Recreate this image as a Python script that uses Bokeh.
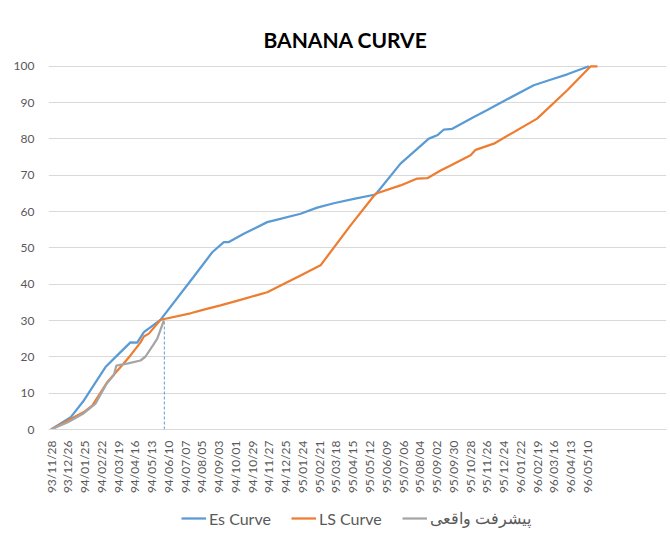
import math
from bokeh.plotting import figure
from bokeh.models import Range1d, FixedTicker, Legend, LegendItem
from bokeh.layouts import column
from bokeh.embed import file_html
from bokeh.resources import INLINE

# ---- data (x measured in category-label steps from the first label) ----
tick_labels = ["93/11/28", "93/12/26", "94/01/25", "94/02/22", "94/03/19", "94/04/16",
               "94/05/13", "94/06/10", "94/07/07", "94/08/05", "94/09/03", "94/10/01",
               "94/10/29", "94/11/27", "94/12/25", "95/01/24", "95/02/21", "95/03/18",
               "95/04/15", "95/05/12", "95/06/09", "95/07/06", "95/08/04", "95/09/02",
               "95/09/30", "95/10/28", "95/11/26", "95/12/24", "96/01/22", "96/02/19",
               "96/03/16", "96/04/13", "96/05/10"]

es_x = [0, 1.18, 1.96, 3.25, 3.95, 4.74, 5.14, 5.54, 6.53, 8.5, 9.62, 10.31, 10.61,
        11.5, 12.9, 13.5, 14.89, 15.88, 16.87, 18.07, 19.36, 20.85, 22.54, 23.04,
        23.44, 23.94, 25.2, 26.0, 26.8, 28.8, 29.8, 30.8, 32.09]
es_y = [0, 3.4, 8.0, 17.2, 20.4, 24.0, 23.9, 26.8, 30.2, 42.0, 48.8, 51.6, 51.6,
        53.9, 57.1, 57.8, 59.4, 61.1, 62.3, 63.5, 64.7, 73.2, 80.1, 81.0,
        82.6, 82.8, 86.0, 87.9, 89.9, 94.8, 96.3, 97.8, 100]

ls_x = [0, 1.96, 2.46, 3.35, 4.15, 4.74, 5.34, 5.54, 5.84, 6.53, 6.83, 8.32, 9.12,
        10.11, 11.3, 12.9, 14.29, 14.89, 16.08, 17.87, 19.36, 20.85, 21.85, 22.45,
        23.24, 23.84, 25.03, 25.33, 26.42, 29.0, 30.8, 32.2, 32.6]
ls_y = [0, 4.8, 6.6, 13.0, 17.2, 20.4, 24.0, 25.6, 26.4, 30.2, 30.5, 32.0, 33.0,
        34.2, 35.7, 37.8, 41.0, 42.4, 45.2, 56.2, 64.9, 67.2, 69.1, 69.2,
        71.3, 72.7, 75.5, 77.0, 78.7, 85.6, 93.4, 100, 100]

act_x = [0, 1.0, 1.96, 2.65, 3.3, 3.75, 3.9, 4.6, 5.34, 5.64, 6.1, 6.34, 6.73]
act_y = [0, 2.0, 4.5, 7.1, 12.5, 15.0, 17.6, 18.2, 19.0, 20.1, 23.3, 25.0, 30.0]

cut_x = [6.76, 6.76]
cut_y = [0, 30]

series_names = ["Es Curve", "LS Curve", "پیشرفت واقعی"]
series_colors = ["#5B9BD5", "#ED7D31", "#A5A5A5"]
title_text = "BANANA CURVE"

FONT = "Lato"
TXT = "#595959"

p = figure(width=670, height=498, output_backend="svg", toolbar_location=None,
           x_range=Range1d(-0.15, 36.72), y_range=Range1d(0, 100.5),
           min_border_left=48, min_border_right=4, min_border_top=64, min_border_bottom=69)
p.outline_line_color = None
p.background_fill_color = "white"
p.border_fill_color = "white"

p.title.text = title_text
p.title.align = "left"
p.title.offset = 215
p.title.standoff = 25
p.title.text_font = FONT
p.title.text_font_style = "bold"
p.title.text_font_size = "21px"
p.title.text_color = "#000000"

p.xgrid.grid_line_color = None
p.ygrid.grid_line_color = "#d9d9d9"
p.ygrid.grid_line_width = 1

p.xaxis.ticker = FixedTicker(ticks=list(range(len(tick_labels))))
p.xaxis.major_label_overrides = {i: t for i, t in enumerate(tick_labels)}
p.xaxis.major_label_orientation = math.pi / 2
p.xaxis.axis_line_color = "#d9d9d9"
p.xaxis.major_tick_line_color = None
p.xaxis.minor_tick_line_color = None
p.xaxis.major_label_text_font = FONT
p.xaxis.major_label_text_font_size = "12px"
p.xaxis.major_label_text_color = TXT
p.xaxis.major_label_standoff = 5

p.yaxis.ticker = FixedTicker(ticks=list(range(0, 101, 10)))
p.yaxis.axis_line_color = None
p.yaxis.major_tick_line_color = None
p.yaxis.minor_tick_line_color = None
p.yaxis.major_label_text_font = FONT
p.yaxis.major_label_text_font_size = "12px"
p.yaxis.major_label_text_color = TXT
p.yaxis.major_label_standoff = 8

p.line(cut_x, cut_y, line_color=series_colors[0], line_width=1, line_dash="3 2")
p.line(es_x, es_y, line_color=series_colors[0], line_width=2.25)
p.line(ls_x, ls_y, line_color=series_colors[1], line_width=2.25)
p.line(act_x, act_y, line_color=series_colors[2], line_width=2.25)

# legend strip below the chart (series drawn out of view, only their legend shows)
q = figure(width=670, height=36, output_backend="svg", toolbar_location=None,
           x_range=Range1d(0, 1), y_range=Range1d(200, 201),
           x_axis_location=None, y_axis_location=None,
           min_border_left=0, min_border_right=0, min_border_top=0, min_border_bottom=0)
q.outline_line_color = None
q.grid.visible = False
q.border_fill_color = "white"
items = []
for name, col, xs, ys in zip(series_names, series_colors,
                             [es_x, ls_x, act_x], [es_y, ls_y, act_y]):
    r = q.line(xs, ys, line_color=col, line_width=2.25)
    items.append(LegendItem(label=name, renderers=[r]))
legend = Legend(items=items, orientation="horizontal", location=(133, 6),
                padding=0, margin=0, spacing=20, glyph_width=25, glyph_height=20,
                label_height=20, label_standoff=3,
                label_text_font=FONT, label_text_font_size="16px",
                label_text_color=TXT, border_line_color=None,
                background_fill_alpha=0)
q.add_layout(legend)

layout = column(p, q, spacing=0)
open("out.html", "w").write(file_html(layout, INLINE))
